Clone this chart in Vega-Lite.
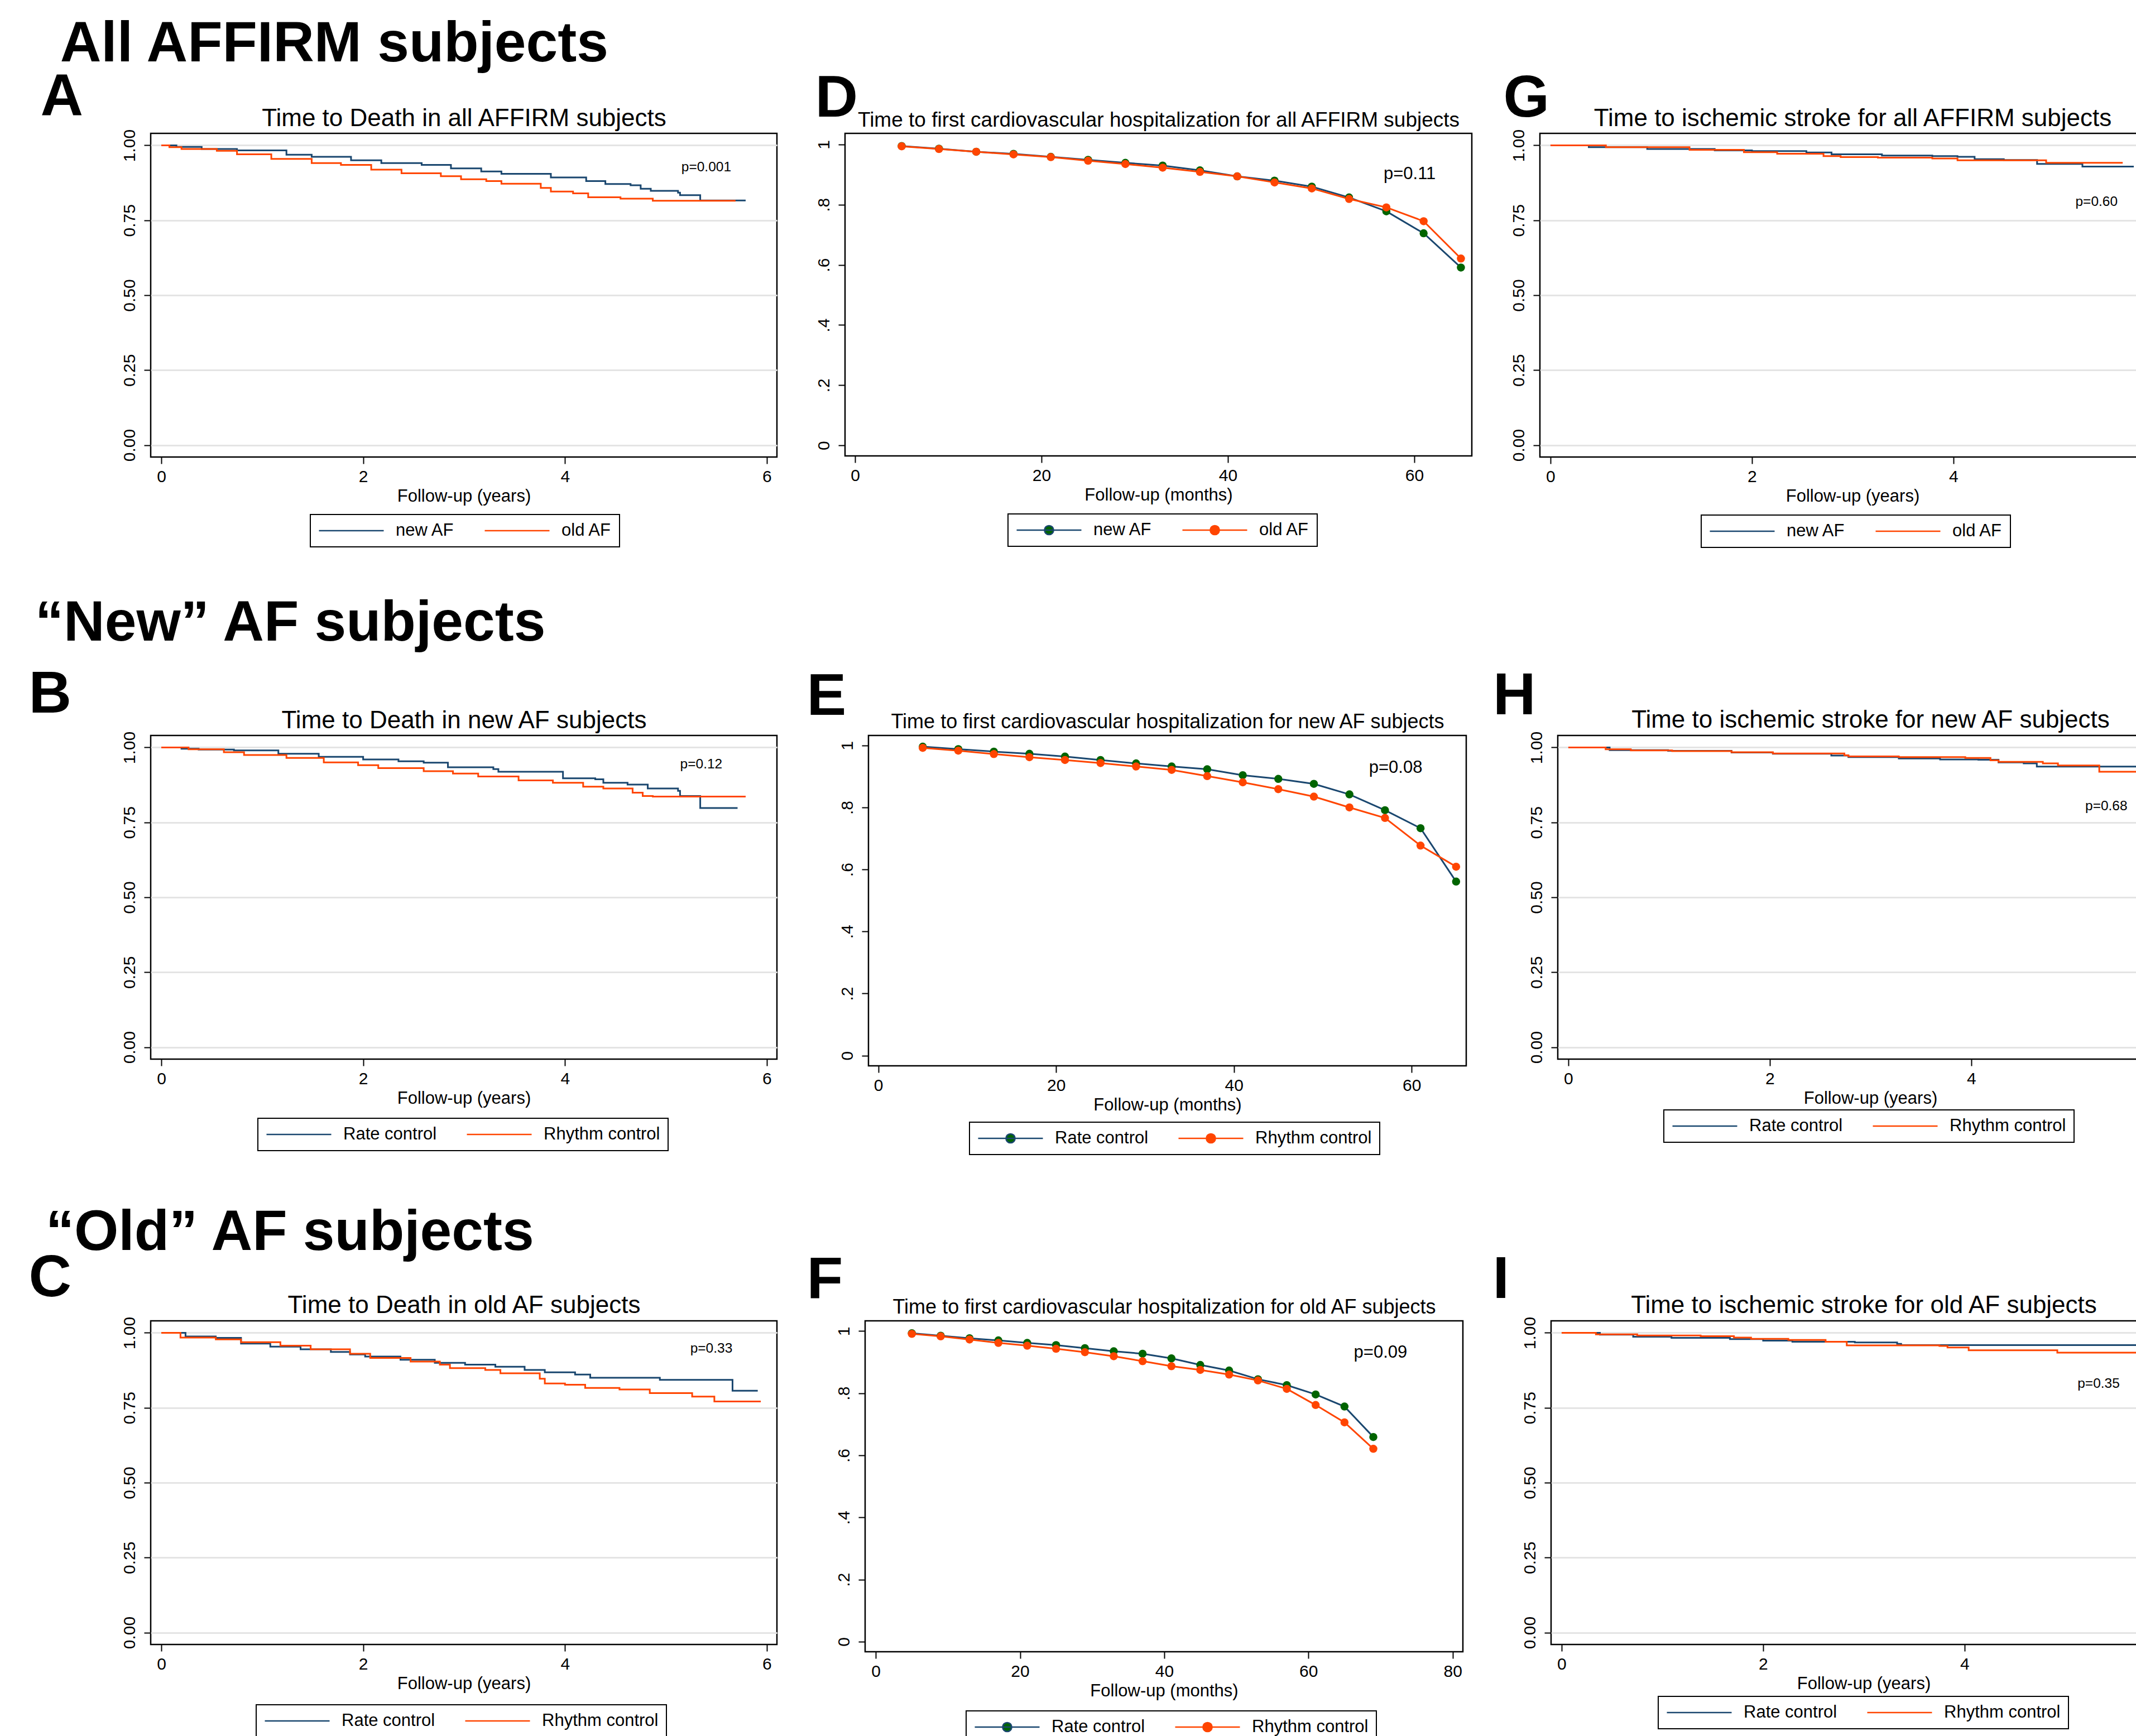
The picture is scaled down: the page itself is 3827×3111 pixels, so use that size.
{
  "$schema": "https://vega.github.io/schema/vega-lite/v6.json",
  "background": "white",
  "autosize": {"type": "pad"},
  "padding": {"left": 49, "top": 26, "right": 0, "bottom": 0},
  "spacing": 80,
  "resolve": {"scale": {"stroke": "independent", "fill": "independent"}},
  "datasets": {
    "km": [
      {"p":"A","g":"new AF","t":0,"s":1},{"p":"A","g":"new AF","t":0.15,"s":0.995},{"p":"A","g":"new AF","t":0.4,"s":0.988},{"p":"A","g":"new AF","t":0.75,"s":0.983},{"p":"A","g":"new AF","t":1.24,"s":0.969},{"p":"A","g":"new AF","t":1.49,"s":0.962},{"p":"A","g":"new AF","t":1.88,"s":0.95},{"p":"A","g":"new AF","t":2.18,"s":0.941},{"p":"A","g":"new AF","t":2.58,"s":0.935},{"p":"A","g":"new AF","t":2.87,"s":0.923},{"p":"A","g":"new AF","t":3.17,"s":0.913},{"p":"A","g":"new AF","t":3.37,"s":0.905},{"p":"A","g":"new AF","t":3.86,"s":0.893},{"p":"A","g":"new AF","t":4.21,"s":0.881},{"p":"A","g":"new AF","t":4.4,"s":0.871},{"p":"A","g":"new AF","t":4.65,"s":0.867},{"p":"A","g":"new AF","t":4.75,"s":0.855},{"p":"A","g":"new AF","t":4.85,"s":0.848},{"p":"A","g":"new AF","t":5.12,"s":0.842},{"p":"A","g":"new AF","t":5.14,"s":0.834},{"p":"A","g":"new AF","t":5.34,"s":0.816},{"p":"A","g":"new AF","t":5.79,"s":0.816},
      {"p":"A","g":"old AF","t":0,"s":1},{"p":"A","g":"old AF","t":0.08,"s":0.994},{"p":"A","g":"old AF","t":0.2,"s":0.988},{"p":"A","g":"old AF","t":0.55,"s":0.982},{"p":"A","g":"old AF","t":0.75,"s":0.97},{"p":"A","g":"old AF","t":1.09,"s":0.955},{"p":"A","g":"old AF","t":1.49,"s":0.941},{"p":"A","g":"old AF","t":1.78,"s":0.935},{"p":"A","g":"old AF","t":2.08,"s":0.919},{"p":"A","g":"old AF","t":2.38,"s":0.907},{"p":"A","g":"old AF","t":2.77,"s":0.897},{"p":"A","g":"old AF","t":2.97,"s":0.887},{"p":"A","g":"old AF","t":3.22,"s":0.881},{"p":"A","g":"old AF","t":3.37,"s":0.872},{"p":"A","g":"old AF","t":3.76,"s":0.858},{"p":"A","g":"old AF","t":3.86,"s":0.846},{"p":"A","g":"old AF","t":4.08,"s":0.84},{"p":"A","g":"old AF","t":4.23,"s":0.827},{"p":"A","g":"old AF","t":4.55,"s":0.822},{"p":"A","g":"old AF","t":4.87,"s":0.815},{"p":"A","g":"old AF","t":5.69,"s":0.815},
      {"p":"B","g":"Rate control","t":0,"s":1},{"p":"B","g":"Rate control","t":0.2,"s":0.996},{"p":"B","g":"Rate control","t":0.37,"s":0.993},{"p":"B","g":"Rate control","t":0.72,"s":0.99},{"p":"B","g":"Rate control","t":1.16,"s":0.979},{"p":"B","g":"Rate control","t":1.56,"s":0.969},{"p":"B","g":"Rate control","t":2.0,"s":0.96},{"p":"B","g":"Rate control","t":2.35,"s":0.954},{"p":"B","g":"Rate control","t":2.6,"s":0.949},{"p":"B","g":"Rate control","t":2.84,"s":0.934},{"p":"B","g":"Rate control","t":3.29,"s":0.928},{"p":"B","g":"Rate control","t":3.34,"s":0.919},{"p":"B","g":"Rate control","t":3.98,"s":0.897},{"p":"B","g":"Rate control","t":4.3,"s":0.894},{"p":"B","g":"Rate control","t":4.38,"s":0.882},{"p":"B","g":"Rate control","t":4.62,"s":0.876},{"p":"B","g":"Rate control","t":4.82,"s":0.863},{"p":"B","g":"Rate control","t":5.12,"s":0.855},{"p":"B","g":"Rate control","t":5.14,"s":0.838},{"p":"B","g":"Rate control","t":5.34,"s":0.798},{"p":"B","g":"Rate control","t":5.71,"s":0.798},
      {"p":"B","g":"Rhythm control","t":0,"s":1},{"p":"B","g":"Rhythm control","t":0.27,"s":0.994},{"p":"B","g":"Rhythm control","t":0.62,"s":0.984},{"p":"B","g":"Rhythm control","t":0.82,"s":0.975},{"p":"B","g":"Rhythm control","t":1.24,"s":0.965},{"p":"B","g":"Rhythm control","t":1.61,"s":0.95},{"p":"B","g":"Rhythm control","t":1.95,"s":0.941},{"p":"B","g":"Rhythm control","t":2.15,"s":0.931},{"p":"B","g":"Rhythm control","t":2.6,"s":0.921},{"p":"B","g":"Rhythm control","t":2.89,"s":0.913},{"p":"B","g":"Rhythm control","t":3.14,"s":0.903},{"p":"B","g":"Rhythm control","t":3.54,"s":0.89},{"p":"B","g":"Rhythm control","t":3.88,"s":0.882},{"p":"B","g":"Rhythm control","t":4.18,"s":0.869},{"p":"B","g":"Rhythm control","t":4.38,"s":0.863},{"p":"B","g":"Rhythm control","t":4.67,"s":0.849},{"p":"B","g":"Rhythm control","t":4.77,"s":0.838},{"p":"B","g":"Rhythm control","t":4.87,"s":0.836},{"p":"B","g":"Rhythm control","t":5.79,"s":0.836},
      {"p":"C","g":"Rate control","t":0,"s":1},{"p":"C","g":"Rate control","t":0.24,"s":0.988},{"p":"C","g":"Rate control","t":0.54,"s":0.983},{"p":"C","g":"Rate control","t":0.79,"s":0.964},{"p":"C","g":"Rate control","t":1.08,"s":0.954},{"p":"C","g":"Rate control","t":1.38,"s":0.945},{"p":"C","g":"Rate control","t":1.68,"s":0.936},{"p":"C","g":"Rate control","t":1.87,"s":0.928},{"p":"C","g":"Rate control","t":2.02,"s":0.921},{"p":"C","g":"Rate control","t":2.37,"s":0.91},{"p":"C","g":"Rate control","t":2.71,"s":0.9},{"p":"C","g":"Rate control","t":3.01,"s":0.894},{"p":"C","g":"Rate control","t":3.31,"s":0.887},{"p":"C","g":"Rate control","t":3.6,"s":0.876},{"p":"C","g":"Rate control","t":3.8,"s":0.868},{"p":"C","g":"Rate control","t":4.1,"s":0.861},{"p":"C","g":"Rate control","t":4.25,"s":0.85},{"p":"C","g":"Rate control","t":4.94,"s":0.843},{"p":"C","g":"Rate control","t":5.66,"s":0.807},{"p":"C","g":"Rate control","t":5.91,"s":0.807},
      {"p":"C","g":"Rhythm control","t":0,"s":1},{"p":"C","g":"Rhythm control","t":0.19,"s":0.984},{"p":"C","g":"Rhythm control","t":0.54,"s":0.978},{"p":"C","g":"Rhythm control","t":0.79,"s":0.969},{"p":"C","g":"Rhythm control","t":1.18,"s":0.957},{"p":"C","g":"Rhythm control","t":1.48,"s":0.945},{"p":"C","g":"Rhythm control","t":1.87,"s":0.93},{"p":"C","g":"Rhythm control","t":2.07,"s":0.916},{"p":"C","g":"Rhythm control","t":2.47,"s":0.904},{"p":"C","g":"Rhythm control","t":2.76,"s":0.894},{"p":"C","g":"Rhythm control","t":2.86,"s":0.882},{"p":"C","g":"Rhythm control","t":3.21,"s":0.876},{"p":"C","g":"Rhythm control","t":3.36,"s":0.865},{"p":"C","g":"Rhythm control","t":3.75,"s":0.847},{"p":"C","g":"Rhythm control","t":3.8,"s":0.831},{"p":"C","g":"Rhythm control","t":4.0,"s":0.827},{"p":"C","g":"Rhythm control","t":4.2,"s":0.816},{"p":"C","g":"Rhythm control","t":4.54,"s":0.811},{"p":"C","g":"Rhythm control","t":4.84,"s":0.799},{"p":"C","g":"Rhythm control","t":5.26,"s":0.787},{"p":"C","g":"Rhythm control","t":5.48,"s":0.771},{"p":"C","g":"Rhythm control","t":5.94,"s":0.771},
      {"p":"G","g":"new AF","t":0,"s":1},{"p":"G","g":"new AF","t":0.38,"s":0.994},{"p":"G","g":"new AF","t":0.96,"s":0.988},{"p":"G","g":"new AF","t":1.63,"s":0.983},{"p":"G","g":"new AF","t":2.0,"s":0.981},{"p":"G","g":"new AF","t":2.54,"s":0.976},{"p":"G","g":"new AF","t":2.79,"s":0.97},{"p":"G","g":"new AF","t":3.29,"s":0.966},{"p":"G","g":"new AF","t":3.79,"s":0.964},{"p":"G","g":"new AF","t":4.04,"s":0.962},{"p":"G","g":"new AF","t":4.21,"s":0.954},{"p":"G","g":"new AF","t":4.5,"s":0.951},{"p":"G","g":"new AF","t":4.83,"s":0.938},{"p":"G","g":"new AF","t":5.28,"s":0.929},{"p":"G","g":"new AF","t":5.79,"s":0.929},
      {"p":"G","g":"old AF","t":0,"s":1},{"p":"G","g":"old AF","t":0.55,"s":0.994},{"p":"G","g":"old AF","t":1.38,"s":0.985},{"p":"G","g":"old AF","t":1.92,"s":0.977},{"p":"G","g":"old AF","t":2.25,"s":0.972},{"p":"G","g":"old AF","t":2.71,"s":0.964},{"p":"G","g":"old AF","t":2.88,"s":0.961},{"p":"G","g":"old AF","t":3.25,"s":0.959},{"p":"G","g":"old AF","t":3.79,"s":0.956},{"p":"G","g":"old AF","t":4.04,"s":0.95},{"p":"G","g":"old AF","t":4.92,"s":0.942},{"p":"G","g":"old AF","t":5.68,"s":0.942},
      {"p":"H","g":"Rate control","t":0,"s":1},{"p":"H","g":"Rate control","t":0.41,"s":0.991},{"p":"H","g":"Rate control","t":0.99,"s":0.989},{"p":"H","g":"Rate control","t":1.62,"s":0.983},{"p":"H","g":"Rate control","t":2.03,"s":0.979},{"p":"H","g":"Rate control","t":2.61,"s":0.973},{"p":"H","g":"Rate control","t":2.78,"s":0.968},{"p":"H","g":"Rate control","t":3.28,"s":0.963},{"p":"H","g":"Rate control","t":3.69,"s":0.96},{"p":"H","g":"Rate control","t":4.07,"s":0.959},{"p":"H","g":"Rate control","t":4.27,"s":0.95},{"p":"H","g":"Rate control","t":4.52,"s":0.947},{"p":"H","g":"Rate control","t":4.65,"s":0.936},{"p":"H","g":"Rate control","t":5.8,"s":0.936},
      {"p":"H","g":"Rhythm control","t":0,"s":1},{"p":"H","g":"Rhythm control","t":0.37,"s":0.994},{"p":"H","g":"Rhythm control","t":0.62,"s":0.99},{"p":"H","g":"Rhythm control","t":1.03,"s":0.988},{"p":"H","g":"Rhythm control","t":1.62,"s":0.984},{"p":"H","g":"Rhythm control","t":2.03,"s":0.98},{"p":"H","g":"Rhythm control","t":2.74,"s":0.974},{"p":"H","g":"Rhythm control","t":2.78,"s":0.97},{"p":"H","g":"Rhythm control","t":3.28,"s":0.968},{"p":"H","g":"Rhythm control","t":3.94,"s":0.965},{"p":"H","g":"Rhythm control","t":4.19,"s":0.957},{"p":"H","g":"Rhythm control","t":4.27,"s":0.952},{"p":"H","g":"Rhythm control","t":4.71,"s":0.947},{"p":"H","g":"Rhythm control","t":4.86,"s":0.94},{"p":"H","g":"Rhythm control","t":5.27,"s":0.919},{"p":"H","g":"Rhythm control","t":5.8,"s":0.919},
      {"p":"I","g":"Rate control","t":0,"s":1},{"p":"I","g":"Rate control","t":0.38,"s":0.994},{"p":"I","g":"Rate control","t":0.71,"s":0.987},{"p":"I","g":"Rate control","t":1.09,"s":0.983},{"p":"I","g":"Rate control","t":1.67,"s":0.979},{"p":"I","g":"Rate control","t":2.0,"s":0.974},{"p":"I","g":"Rate control","t":2.29,"s":0.97},{"p":"I","g":"Rate control","t":2.91,"s":0.968},{"p":"I","g":"Rate control","t":3.33,"s":0.963},{"p":"I","g":"Rate control","t":3.37,"s":0.959},{"p":"I","g":"Rate control","t":5.9,"s":0.959},
      {"p":"I","g":"Rhythm control","t":0,"s":1},{"p":"I","g":"Rhythm control","t":0.34,"s":0.995},{"p":"I","g":"Rhythm control","t":0.75,"s":0.991},{"p":"I","g":"Rhythm control","t":1.38,"s":0.989},{"p":"I","g":"Rhythm control","t":1.71,"s":0.984},{"p":"I","g":"Rhythm control","t":1.88,"s":0.98},{"p":"I","g":"Rhythm control","t":2.25,"s":0.976},{"p":"I","g":"Rhythm control","t":2.62,"s":0.97},{"p":"I","g":"Rhythm control","t":2.83,"s":0.958},{"p":"I","g":"Rhythm control","t":3.75,"s":0.956},{"p":"I","g":"Rhythm control","t":3.83,"s":0.951},{"p":"I","g":"Rhythm control","t":4.04,"s":0.942},{"p":"I","g":"Rhythm control","t":4.92,"s":0.934},{"p":"I","g":"Rhythm control","t":5.9,"s":0.934}
    ],
    "hosp": [
      {"p":"D","g":"new AF","t":5,"s":0.995},{"p":"D","g":"new AF","t":9,"s":0.986},{"p":"D","g":"new AF","t":13,"s":0.976},{"p":"D","g":"new AF","t":17,"s":0.969},{"p":"D","g":"new AF","t":21,"s":0.959},{"p":"D","g":"new AF","t":25,"s":0.949},{"p":"D","g":"new AF","t":29,"s":0.939},{"p":"D","g":"new AF","t":33,"s":0.93},{"p":"D","g":"new AF","t":37,"s":0.914},{"p":"D","g":"new AF","t":41,"s":0.894},{"p":"D","g":"new AF","t":45,"s":0.88},{"p":"D","g":"new AF","t":49,"s":0.86},{"p":"D","g":"new AF","t":53,"s":0.824},{"p":"D","g":"new AF","t":57,"s":0.778},{"p":"D","g":"new AF","t":61,"s":0.705},{"p":"D","g":"new AF","t":65,"s":0.591},
      {"p":"D","g":"old AF","t":5,"s":0.994},{"p":"D","g":"old AF","t":9,"s":0.985},{"p":"D","g":"old AF","t":13,"s":0.976},{"p":"D","g":"old AF","t":17,"s":0.967},{"p":"D","g":"old AF","t":21,"s":0.958},{"p":"D","g":"old AF","t":25,"s":0.946},{"p":"D","g":"old AF","t":29,"s":0.935},{"p":"D","g":"old AF","t":33,"s":0.923},{"p":"D","g":"old AF","t":37,"s":0.909},{"p":"D","g":"old AF","t":41,"s":0.894},{"p":"D","g":"old AF","t":45,"s":0.874},{"p":"D","g":"old AF","t":49,"s":0.854},{"p":"D","g":"old AF","t":53,"s":0.819},{"p":"D","g":"old AF","t":57,"s":0.791},{"p":"D","g":"old AF","t":61,"s":0.745},{"p":"D","g":"old AF","t":65,"s":0.621},
      {"p":"E","g":"Rate control","t":5,"s":0.996},{"p":"E","g":"Rate control","t":9,"s":0.988},{"p":"E","g":"Rate control","t":13,"s":0.98},{"p":"E","g":"Rate control","t":17,"s":0.973},{"p":"E","g":"Rate control","t":21,"s":0.964},{"p":"E","g":"Rate control","t":25,"s":0.953},{"p":"E","g":"Rate control","t":29,"s":0.942},{"p":"E","g":"Rate control","t":33,"s":0.932},{"p":"E","g":"Rate control","t":37,"s":0.923},{"p":"E","g":"Rate control","t":41,"s":0.904},{"p":"E","g":"Rate control","t":45,"s":0.892},{"p":"E","g":"Rate control","t":49,"s":0.876},{"p":"E","g":"Rate control","t":53,"s":0.842},{"p":"E","g":"Rate control","t":57,"s":0.791},{"p":"E","g":"Rate control","t":61,"s":0.733},{"p":"E","g":"Rate control","t":65,"s":0.561},
      {"p":"E","g":"Rhythm control","t":5,"s":0.992},{"p":"E","g":"Rhythm control","t":9,"s":0.983},{"p":"E","g":"Rhythm control","t":13,"s":0.972},{"p":"E","g":"Rhythm control","t":17,"s":0.962},{"p":"E","g":"Rhythm control","t":21,"s":0.953},{"p":"E","g":"Rhythm control","t":25,"s":0.943},{"p":"E","g":"Rhythm control","t":29,"s":0.932},{"p":"E","g":"Rhythm control","t":33,"s":0.921},{"p":"E","g":"Rhythm control","t":37,"s":0.901},{"p":"E","g":"Rhythm control","t":41,"s":0.881},{"p":"E","g":"Rhythm control","t":45,"s":0.859},{"p":"E","g":"Rhythm control","t":49,"s":0.835},{"p":"E","g":"Rhythm control","t":53,"s":0.8},{"p":"E","g":"Rhythm control","t":57,"s":0.766},{"p":"E","g":"Rhythm control","t":61,"s":0.677},{"p":"E","g":"Rhythm control","t":65,"s":0.609},
      {"p":"F","g":"Rate control","t":5,"s":0.993},{"p":"F","g":"Rate control","t":9,"s":0.985},{"p":"F","g":"Rate control","t":13,"s":0.977},{"p":"F","g":"Rate control","t":17,"s":0.97},{"p":"F","g":"Rate control","t":21,"s":0.962},{"p":"F","g":"Rate control","t":25,"s":0.955},{"p":"F","g":"Rate control","t":29,"s":0.945},{"p":"F","g":"Rate control","t":33,"s":0.935},{"p":"F","g":"Rate control","t":37,"s":0.927},{"p":"F","g":"Rate control","t":41,"s":0.912},{"p":"F","g":"Rate control","t":45,"s":0.891},{"p":"F","g":"Rate control","t":49,"s":0.873},{"p":"F","g":"Rate control","t":53,"s":0.845},{"p":"F","g":"Rate control","t":57,"s":0.826},{"p":"F","g":"Rate control","t":61,"s":0.796},{"p":"F","g":"Rate control","t":65,"s":0.757},{"p":"F","g":"Rate control","t":69,"s":0.659},
      {"p":"F","g":"Rhythm control","t":5,"s":0.991},{"p":"F","g":"Rhythm control","t":9,"s":0.983},{"p":"F","g":"Rhythm control","t":13,"s":0.973},{"p":"F","g":"Rhythm control","t":17,"s":0.962},{"p":"F","g":"Rhythm control","t":21,"s":0.953},{"p":"F","g":"Rhythm control","t":25,"s":0.943},{"p":"F","g":"Rhythm control","t":29,"s":0.932},{"p":"F","g":"Rhythm control","t":33,"s":0.919},{"p":"F","g":"Rhythm control","t":37,"s":0.903},{"p":"F","g":"Rhythm control","t":41,"s":0.887},{"p":"F","g":"Rhythm control","t":45,"s":0.875},{"p":"F","g":"Rhythm control","t":49,"s":0.86},{"p":"F","g":"Rhythm control","t":53,"s":0.841},{"p":"F","g":"Rhythm control","t":57,"s":0.814},{"p":"F","g":"Rhythm control","t":61,"s":0.762},{"p":"F","g":"Rhythm control","t":65,"s":0.706},{"p":"F","g":"Rhythm control","t":69,"s":0.621}
    ],
    "pv": [
      {"p":"A","label":"p=0.001","t":5.40,"s":0.926},
      {"p":"B","label":"p=0.12","t":5.35,"s":0.944},
      {"p":"C","label":"p=0.33","t":5.45,"s":0.946},
      {"p":"D","label":"p=0.11","t":59.5,"s":0.901},
      {"p":"E","label":"p=0.08","t":58.2,"s":0.927},
      {"p":"F","label":"p=0.09","t":70.0,"s":0.930},
      {"p":"G","label":"p=0.60","t":5.42,"s":0.811},
      {"p":"H","label":"p=0.68","t":5.34,"s":0.803},
      {"p":"I","label":"p=0.35","t":5.33,"s":0.829}
    ]
  },
  "vconcat": [
    {
      "hconcat": [
        {
          "width": 1122, "height": 580,
          "title": {"text": "\u200b\u00a0\u00a0All AFFIRM subjects", "dx": -219, "offset": -10},
          "layer": [
            {"data": {"name": "km"}, "transform": [{"filter": "datum.p === 'A'"}],
             "mark": {"type": "line", "interpolate": "step-after", "strokeWidth": 3},
             "encoding": {
               "x": {"field": "t", "type": "quantitative", "scale": {"domain": [-0.105, 6.1], "nice": false, "zero": false}, "axis": {"orient": "bottom", "title": "Follow-up (years)", "values": [0, 2, 4, 6], "grid": false}},
               "y": {"field": "s", "type": "quantitative", "scale": {"domain": [-0.04, 1.04], "nice": false, "zero": false}, "axis": {"values": [0, 0.25, 0.5, 0.75, 1], "format": ".2f", "grid": true, "title": "A", "titleX": -198, "titleY": -33, "titleAngle": 0, "titleAlign": "left", "titleBaseline": "alphabetic", "titleFontSize": 106, "titleFontWeight": "bold"}},
               "stroke": {"field": "g", "type": "nominal", "scale": {"domain": ["new AF", "old AF"], "range": ["#1a476f", "#ff4500"]}, "legend": {"orient": "none", "legendX": 286, "legendY": 683, "title": null, "symbolType": "stroke", "symbolSize": 13456}}
             }},
            {"data": {"name": "pv"}, "transform": [{"filter": "datum.p === 'A'"}],
             "mark": {"type": "text", "fontSize": 24.5, "align": "center", "baseline": "middle"},
             "encoding": {
               "x": {"field": "t", "type": "quantitative", "scale": {"domain": [-0.105, 6.1], "nice": false, "zero": false}, "axis": {"orient": "top", "title": "Time to Death in all AFFIRM subjects", "labels": false, "ticks": false, "domain": false, "grid": false, "titleFontSize": 44, "titlePadding": 5}},
               "y": {"field": "s", "type": "quantitative", "scale": {"domain": [-0.04, 1.04], "nice": false, "zero": false}},
               "text": {"field": "label"}
             }}
          ],
          "resolve": {"axis": {"x": "independent"}}
        },
        {
          "width": 1123, "height": 578,
          "layer": [
            {"data": {"name": "hosp"}, "transform": [{"filter": "datum.p === 'D'"}],
             "mark": {"type": "line", "strokeWidth": 3},
             "encoding": {
               "x": {"field": "t", "type": "quantitative", "scale": {"domain": [-1.078, 66.17], "nice": false, "zero": false}, "axis": {"orient": "bottom", "title": "Follow-up (months)", "values": [0, 20, 40, 60], "grid": false}},
               "y": {"field": "s", "type": "quantitative", "scale": {"domain": [-0.035, 1.037], "nice": false, "zero": false}, "axis": {"values": [0, 0.2, 0.4, 0.6, 0.8, 1], "labelExpr": "datum.value === 0 ? '0' : datum.value === 1 ? '1' : replace(format(datum.value, '.1f'), '0.', '.')", "grid": false, "title": "D", "titleX": -54, "titleY": -31, "titleAngle": 0, "titleAlign": "left", "titleBaseline": "alphabetic", "titleFontSize": 106, "titleFontWeight": "bold"}},
               "stroke": {"field": "g", "type": "nominal", "scale": {"domain": ["new AF", "old AF"], "range": ["#1a476f", "#ff4500"]}, "legend": {"orient": "none", "legendX": 292, "legendY": 682, "title": null, "symbolType": "M-1,0H1M-0.14,0A0.14,0.14,0,1,1,0.14,0A0.14,0.14,0,1,1,-0.14,0Z", "symbolSize": 13456}}
             }},
            {"data": {"name": "hosp"}, "transform": [{"filter": "datum.p === 'D'"}],
             "mark": {"type": "point", "filled": true, "size": 210, "opacity": 1, "strokeWidth": 0},
             "encoding": {
               "x": {"field": "t", "type": "quantitative", "scale": {"domain": [-1.078, 66.17], "nice": false, "zero": false}, "axis": null},
               "y": {"field": "s", "type": "quantitative", "scale": {"domain": [-0.035, 1.037], "nice": false, "zero": false}},
               "fill": {"field": "g", "type": "nominal", "scale": {"domain": ["new AF", "old AF"], "range": ["#006400", "#ff4500"]}, "legend": {"orient": "none", "legendX": 292, "legendY": 682, "title": null, "symbolType": "M-1,0H1M-0.14,0A0.14,0.14,0,1,1,0.14,0A0.14,0.14,0,1,1,-0.14,0Z", "symbolSize": 13456}}
             }},
            {"data": {"name": "pv"}, "transform": [{"filter": "datum.p === 'D'"}],
             "mark": {"type": "text", "fontSize": 31, "align": "center", "baseline": "middle"},
             "encoding": {
               "x": {"field": "t", "type": "quantitative", "scale": {"domain": [-1.078, 66.17], "nice": false, "zero": false}, "axis": {"orient": "top", "title": "Time to first cardiovascular hospitalization for all AFFIRM subjects", "labels": false, "ticks": false, "domain": false, "grid": false, "titleFontSize": 37, "titlePadding": 5}},
               "y": {"field": "s", "type": "quantitative", "scale": {"domain": [-0.035, 1.037], "nice": false, "zero": false}},
               "text": {"field": "label"}
             }}
          ],
          "resolve": {"axis": {"x": "independent"}}
        },
        {
          "width": 1120, "height": 580,
          "layer": [
            {"data": {"name": "km"}, "transform": [{"filter": "datum.p === 'G'"}],
             "mark": {"type": "line", "interpolate": "step-after", "strokeWidth": 3},
             "encoding": {
               "x": {"field": "t", "type": "quantitative", "scale": {"domain": [-0.105, 6.1], "nice": false, "zero": false}, "axis": {"orient": "bottom", "title": "Follow-up (years)", "values": [0, 2, 4, 6], "grid": false}},
               "y": {"field": "s", "type": "quantitative", "scale": {"domain": [-0.04, 1.04], "nice": false, "zero": false}, "axis": {"values": [0, 0.25, 0.5, 0.75, 1], "format": ".2f", "grid": true, "title": "G", "titleX": -66, "titleY": -31, "titleAngle": 0, "titleAlign": "left", "titleBaseline": "alphabetic", "titleFontSize": 106, "titleFontWeight": "bold"}},
               "stroke": {"field": "g", "type": "nominal", "scale": {"domain": ["new AF", "old AF"], "range": ["#1a476f", "#ff4500"]}, "legend": {"orient": "none", "legendX": 289, "legendY": 684, "title": null, "symbolType": "stroke", "symbolSize": 13456}}
             }},
            {"data": {"name": "pv"}, "transform": [{"filter": "datum.p === 'G'"}],
             "mark": {"type": "text", "fontSize": 24.5, "align": "center", "baseline": "middle"},
             "encoding": {
               "x": {"field": "t", "type": "quantitative", "scale": {"domain": [-0.105, 6.1], "nice": false, "zero": false}, "axis": {"orient": "top", "title": "Time to ischemic stroke for all AFFIRM subjects", "labels": false, "ticks": false, "domain": false, "grid": false, "titleFontSize": 44, "titlePadding": 5}},
               "y": {"field": "s", "type": "quantitative", "scale": {"domain": [-0.04, 1.04], "nice": false, "zero": false}},
               "text": {"field": "label"}
             }}
          ],
          "resolve": {"axis": {"x": "independent"}}
        }
      ],
      "spacing": 122,
      "bounds": "flush",
      "resolve": {"scale": {"stroke": "independent", "fill": "independent"}}
    },
    {
      "hconcat": [
        {
          "width": 1122, "height": 580,
          "title": {"text": "“New” AF subjects", "dx": -207, "offset": 21.9},
          "layer": [
            {"data": {"name": "km"}, "transform": [{"filter": "datum.p === 'B'"}],
             "mark": {"type": "line", "interpolate": "step-after", "strokeWidth": 3},
             "encoding": {
               "x": {"field": "t", "type": "quantitative", "scale": {"domain": [-0.105, 6.1], "nice": false, "zero": false}, "axis": {"orient": "bottom", "title": "Follow-up (years)", "values": [0, 2, 4, 6], "grid": false}},
               "y": {"field": "s", "type": "quantitative", "scale": {"domain": [-0.04, 1.04], "nice": false, "zero": false}, "axis": {"values": [0, 0.25, 0.5, 0.75, 1], "format": ".2f", "grid": true, "title": "B", "titleX": -219, "titleY": -42, "titleAngle": 0, "titleAlign": "left", "titleBaseline": "alphabetic", "titleFontSize": 106, "titleFontWeight": "bold"}},
               "stroke": {"field": "g", "type": "nominal", "scale": {"domain": ["Rate control", "Rhythm control"], "range": ["#1a476f", "#ff4500"]}, "legend": {"orient": "none", "legendX": 192, "legendY": 686, "title": null, "symbolType": "stroke", "symbolSize": 13456}}
             }},
            {"data": {"name": "pv"}, "transform": [{"filter": "datum.p === 'B'"}],
             "mark": {"type": "text", "fontSize": 24.5, "align": "center", "baseline": "middle"},
             "encoding": {
               "x": {"field": "t", "type": "quantitative", "scale": {"domain": [-0.105, 6.1], "nice": false, "zero": false}, "axis": {"orient": "top", "title": "Time to Death in new AF subjects", "labels": false, "ticks": false, "domain": false, "grid": false, "titleFontSize": 44, "titlePadding": 5}},
               "y": {"field": "s", "type": "quantitative", "scale": {"domain": [-0.04, 1.04], "nice": false, "zero": false}},
               "text": {"field": "label"}
             }}
          ],
          "resolve": {"axis": {"x": "independent"}}
        },
        {
          "width": 1071, "height": 592,
          "layer": [
            {"data": {"name": "hosp"}, "transform": [{"filter": "datum.p === 'E'"}],
             "mark": {"type": "line", "strokeWidth": 3},
             "encoding": {
               "x": {"field": "t", "type": "quantitative", "scale": {"domain": [-1.105, 66.14], "nice": false, "zero": false}, "axis": {"orient": "bottom", "title": "Follow-up (months)", "values": [0, 20, 40, 60], "grid": false}},
               "y": {"field": "s", "type": "quantitative", "scale": {"domain": [-0.033, 1.032], "nice": false, "zero": false}, "axis": {"values": [0, 0.2, 0.4, 0.6, 0.8, 1], "labelExpr": "datum.value === 0 ? '0' : datum.value === 1 ? '1' : replace(format(datum.value, '.1f'), '0.', '.')", "grid": false, "title": "E", "titleX": -111, "titleY": -38, "titleAngle": 0, "titleAlign": "left", "titleBaseline": "alphabetic", "titleFontSize": 106, "titleFontWeight": "bold"}},
               "stroke": {"field": "g", "type": "nominal", "scale": {"domain": ["Rate control", "Rhythm control"], "range": ["#1a476f", "#ff4500"]}, "legend": {"orient": "none", "legendX": 181, "legendY": 693, "title": null, "symbolType": "M-1,0H1M-0.14,0A0.14,0.14,0,1,1,0.14,0A0.14,0.14,0,1,1,-0.14,0Z", "symbolSize": 13456}}
             }},
            {"data": {"name": "hosp"}, "transform": [{"filter": "datum.p === 'E'"}],
             "mark": {"type": "point", "filled": true, "size": 210, "opacity": 1, "strokeWidth": 0},
             "encoding": {
               "x": {"field": "t", "type": "quantitative", "scale": {"domain": [-1.105, 66.14], "nice": false, "zero": false}, "axis": null},
               "y": {"field": "s", "type": "quantitative", "scale": {"domain": [-0.033, 1.032], "nice": false, "zero": false}},
               "fill": {"field": "g", "type": "nominal", "scale": {"domain": ["Rate control", "Rhythm control"], "range": ["#006400", "#ff4500"]}, "legend": {"orient": "none", "legendX": 181, "legendY": 693, "title": null, "symbolType": "M-1,0H1M-0.14,0A0.14,0.14,0,1,1,0.14,0A0.14,0.14,0,1,1,-0.14,0Z", "symbolSize": 13456}}
             }},
            {"data": {"name": "pv"}, "transform": [{"filter": "datum.p === 'E'"}],
             "mark": {"type": "text", "fontSize": 31, "align": "center", "baseline": "middle"},
             "encoding": {
               "x": {"field": "t", "type": "quantitative", "scale": {"domain": [-1.105, 66.14], "nice": false, "zero": false}, "axis": {"orient": "top", "title": "Time to first cardiovascular hospitalization for new AF subjects", "labels": false, "ticks": false, "domain": false, "grid": false, "titleFontSize": 36, "titlePadding": 6}},
               "y": {"field": "s", "type": "quantitative", "scale": {"domain": [-0.033, 1.032], "nice": false, "zero": false}},
               "text": {"field": "label"}
             }}
          ],
          "resolve": {"axis": {"x": "independent"}}
        },
        {
          "width": 1120, "height": 580,
          "layer": [
            {"data": {"name": "km"}, "transform": [{"filter": "datum.p === 'H'"}],
             "mark": {"type": "line", "interpolate": "step-after", "strokeWidth": 3},
             "encoding": {
               "x": {"field": "t", "type": "quantitative", "scale": {"domain": [-0.105, 6.1], "nice": false, "zero": false}, "axis": {"orient": "bottom", "title": "Follow-up (years)", "values": [0, 2, 4, 6], "grid": false}},
               "y": {"field": "s", "type": "quantitative", "scale": {"domain": [-0.04, 1.04], "nice": false, "zero": false}, "axis": {"values": [0, 0.25, 0.5, 0.75, 1], "format": ".2f", "grid": true, "title": "H", "titleX": -116.5, "titleY": -39, "titleAngle": 0, "titleAlign": "left", "titleBaseline": "alphabetic", "titleFontSize": 106, "titleFontWeight": "bold"}},
               "stroke": {"field": "g", "type": "nominal", "scale": {"domain": ["Rate control", "Rhythm control"], "range": ["#1a476f", "#ff4500"]}, "legend": {"orient": "none", "legendX": 190, "legendY": 671, "title": null, "symbolType": "stroke", "symbolSize": 13456}}
             }},
            {"data": {"name": "pv"}, "transform": [{"filter": "datum.p === 'H'"}],
             "mark": {"type": "text", "fontSize": 24.5, "align": "center", "baseline": "middle"},
             "encoding": {
               "x": {"field": "t", "type": "quantitative", "scale": {"domain": [-0.105, 6.1], "nice": false, "zero": false}, "axis": {"orient": "top", "title": "Time to ischemic stroke for new AF subjects", "labels": false, "ticks": false, "domain": false, "grid": false, "titleFontSize": 44, "titlePadding": 6}},
               "y": {"field": "s", "type": "quantitative", "scale": {"domain": [-0.04, 1.04], "nice": false, "zero": false}},
               "text": {"field": "label"}
             }}
          ],
          "resolve": {"axis": {"x": "independent"}}
        },
        {"width": 1, "height": 758, "data": {"values": []}, "mark": "point", "view": {"stroke": null}}
      ],
      "spacing": 164,
      "bounds": "flush",
      "resolve": {"scale": {"stroke": "independent", "fill": "independent"}}
    },
    {
      "hconcat": [
        {
          "width": 1122, "height": 580,
          "title": {"text": "“Old” AF subjects", "dx": -188, "offset": -23.7},
          "layer": [
            {"data": {"name": "km"}, "transform": [{"filter": "datum.p === 'C'"}],
             "mark": {"type": "line", "interpolate": "step-after", "strokeWidth": 3},
             "encoding": {
               "x": {"field": "t", "type": "quantitative", "scale": {"domain": [-0.105, 6.1], "nice": false, "zero": false}, "axis": {"orient": "bottom", "title": "Follow-up (years)", "values": [0, 2, 4, 6], "grid": false}},
               "y": {"field": "s", "type": "quantitative", "scale": {"domain": [-0.04, 1.04], "nice": false, "zero": false}, "axis": {"values": [0, 0.25, 0.5, 0.75, 1], "format": ".2f", "grid": true, "title": "C", "titleX": -219, "titleY": -45, "titleAngle": 0, "titleAlign": "left", "titleBaseline": "alphabetic", "titleFontSize": 106, "titleFontWeight": "bold"}},
               "stroke": {"field": "g", "type": "nominal", "scale": {"domain": ["Rate control", "Rhythm control"], "range": ["#1a476f", "#ff4500"]}, "legend": {"orient": "none", "legendX": 189, "legendY": 688, "title": null, "symbolType": "stroke", "symbolSize": 13456}}
             }},
            {"data": {"name": "pv"}, "transform": [{"filter": "datum.p === 'C'"}],
             "mark": {"type": "text", "fontSize": 24.5, "align": "center", "baseline": "middle"},
             "encoding": {
               "x": {"field": "t", "type": "quantitative", "scale": {"domain": [-0.105, 6.1], "nice": false, "zero": false}, "axis": {"orient": "top", "title": "Time to Death in old AF subjects", "labels": false, "ticks": false, "domain": false, "grid": false, "titleFontSize": 44, "titlePadding": 6}},
               "y": {"field": "s", "type": "quantitative", "scale": {"domain": [-0.04, 1.04], "nice": false, "zero": false}},
               "text": {"field": "label"}
             }}
          ],
          "resolve": {"axis": {"x": "independent"}}
        },
        {
          "width": 1071, "height": 593,
          "layer": [
            {"data": {"name": "hosp"}, "transform": [{"filter": "datum.p === 'F'"}],
             "mark": {"type": "line", "strokeWidth": 3},
             "encoding": {
               "x": {"field": "t", "type": "quantitative", "scale": {"domain": [-1.48, 81.42], "nice": false, "zero": false}, "axis": {"orient": "bottom", "title": "Follow-up (months)", "values": [0, 20, 40, 60, 80], "grid": false}},
               "y": {"field": "s", "type": "quantitative", "scale": {"domain": [-0.0325, 1.033], "nice": false, "zero": false}, "axis": {"values": [0, 0.2, 0.4, 0.6, 0.8, 1], "labelExpr": "datum.value === 0 ? '0' : datum.value === 1 ? '1' : replace(format(datum.value, '.1f'), '0.', '.')", "grid": false, "title": "F", "titleX": -105, "titleY": -41, "titleAngle": 0, "titleAlign": "left", "titleBaseline": "alphabetic", "titleFontSize": 106, "titleFontWeight": "bold"}},
               "stroke": {"field": "g", "type": "nominal", "scale": {"domain": ["Rate control", "Rhythm control"], "range": ["#1a476f", "#ff4500"]}, "legend": {"orient": "none", "legendX": 181, "legendY": 699, "title": null, "symbolType": "M-1,0H1M-0.14,0A0.14,0.14,0,1,1,0.14,0A0.14,0.14,0,1,1,-0.14,0Z", "symbolSize": 13456}}
             }},
            {"data": {"name": "hosp"}, "transform": [{"filter": "datum.p === 'F'"}],
             "mark": {"type": "point", "filled": true, "size": 210, "opacity": 1, "strokeWidth": 0},
             "encoding": {
               "x": {"field": "t", "type": "quantitative", "scale": {"domain": [-1.48, 81.42], "nice": false, "zero": false}, "axis": null},
               "y": {"field": "s", "type": "quantitative", "scale": {"domain": [-0.0325, 1.033], "nice": false, "zero": false}},
               "fill": {"field": "g", "type": "nominal", "scale": {"domain": ["Rate control", "Rhythm control"], "range": ["#006400", "#ff4500"]}, "legend": {"orient": "none", "legendX": 181, "legendY": 699, "title": null, "symbolType": "M-1,0H1M-0.14,0A0.14,0.14,0,1,1,0.14,0A0.14,0.14,0,1,1,-0.14,0Z", "symbolSize": 13456}}
             }},
            {"data": {"name": "pv"}, "transform": [{"filter": "datum.p === 'F'"}],
             "mark": {"type": "text", "fontSize": 31, "align": "center", "baseline": "middle"},
             "encoding": {
               "x": {"field": "t", "type": "quantitative", "scale": {"domain": [-1.48, 81.42], "nice": false, "zero": false}, "axis": {"orient": "top", "title": "Time to first cardiovascular hospitalization for old AF subjects", "labels": false, "ticks": false, "domain": false, "grid": false, "titleFontSize": 36, "titlePadding": 6}},
               "y": {"field": "s", "type": "quantitative", "scale": {"domain": [-0.0325, 1.033], "nice": false, "zero": false}},
               "text": {"field": "label"}
             }}
          ],
          "resolve": {"axis": {"x": "independent"}}
        },
        {
          "width": 1120, "height": 580,
          "layer": [
            {"data": {"name": "km"}, "transform": [{"filter": "datum.p === 'I'"}],
             "mark": {"type": "line", "interpolate": "step-after", "strokeWidth": 3},
             "encoding": {
               "x": {"field": "t", "type": "quantitative", "scale": {"domain": [-0.105, 6.1], "nice": false, "zero": false}, "axis": {"orient": "bottom", "title": "Follow-up (years)", "values": [0, 2, 4, 6], "grid": false}},
               "y": {"field": "s", "type": "quantitative", "scale": {"domain": [-0.04, 1.04], "nice": false, "zero": false}, "axis": {"values": [0, 0.25, 0.5, 0.75, 1], "format": ".2f", "grid": true, "title": "I", "titleX": -105, "titleY": -42, "titleAngle": 0, "titleAlign": "left", "titleBaseline": "alphabetic", "titleFontSize": 106, "titleFontWeight": "bold"}},
               "stroke": {"field": "g", "type": "nominal", "scale": {"domain": ["Rate control", "Rhythm control"], "range": ["#1a476f", "#ff4500"]}, "legend": {"orient": "none", "legendX": 192, "legendY": 673, "title": null, "symbolType": "stroke", "symbolSize": 13456}}
             }},
            {"data": {"name": "pv"}, "transform": [{"filter": "datum.p === 'I'"}],
             "mark": {"type": "text", "fontSize": 24.5, "align": "center", "baseline": "middle"},
             "encoding": {
               "x": {"field": "t", "type": "quantitative", "scale": {"domain": [-0.105, 6.1], "nice": false, "zero": false}, "axis": {"orient": "top", "title": "Time to ischemic stroke for old AF subjects", "labels": false, "ticks": false, "domain": false, "grid": false, "titleFontSize": 44, "titlePadding": 6}},
               "y": {"field": "s", "type": "quantitative", "scale": {"domain": [-0.04, 1.04], "nice": false, "zero": false}},
               "text": {"field": "label"}
             }}
          ],
          "resolve": {"axis": {"x": "independent"}}
        }
      ],
      "spacing": 158,
      "bounds": "flush",
      "resolve": {"scale": {"stroke": "independent", "fill": "independent"}}
    }
  ],
  "config": {
    "font": "Liberation Sans",
    "view": {"stroke": "black", "strokeWidth": 2.5},
    "axis": {
      "labelFont": "Liberation Sans", "labelFontSize": 30, "labelColor": "black",
      "titleFont": "Liberation Sans", "titleFontSize": 31, "titleFontWeight": "normal", "titleColor": "black",
      "tickColor": "black", "tickSize": 12, "tickWidth": 2, "domain": false,
      "gridColor": "#e4e4e4", "gridWidth": 3, "labelFlush": false, "labelOverlap": false
    },
    "axisX": {"labelPadding": 8, "titlePadding": 5},
    "axisY": {"labelAngle": 270, "labelAlign": "center", "labelBaseline": "bottom", "labelPadding": 11},
    "legend": {
      "labelFont": "Liberation Sans", "labelFontSize": 31, "labelColor": "black", "labelOffset": 20,
      "columnPadding": 52, "padding": 14, "strokeColor": "black", "strokeWidth": 2, "fillColor": "white",
      "labelLimit": 0, "symbolStrokeWidth": 2.5, "clipHeight": 30, "direction": "horizontal", "symbolOpacity": 1
    },
    "title": {"font": "Liberation Sans", "fontSize": 102, "fontWeight": "bold", "color": "black", "anchor": "start", "frame": "group", "baseline": "alphabetic"},
    "text": {"font": "Liberation Sans", "color": "black"}
  }
}
